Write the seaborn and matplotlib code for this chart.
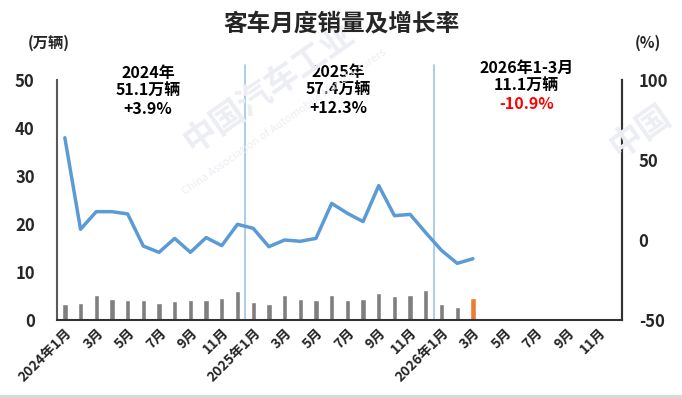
import numpy as np
import pandas as pd
import matplotlib
matplotlib.use("Agg")
import matplotlib.pyplot as plt
import seaborn as sns

sns.set_style("white")
plt.rcParams['font.family'] = ['Noto Sans CJK SC', 'DejaVu Sans']
plt.rcParams['axes.unicode_minus'] = False

# ---- data ----
month_keys = [f"{y}-{m:02d}" for y in (2024, 2025, 2026) for m in range(1, 13)]
tick_labels = ["2024年1月", "3月", "5月", "7月", "9月", "11月",
               "2025年1月", "3月", "5月", "7月", "9月", "11月",
               "2026年1月", "3月", "5月", "7月", "9月", "11月"]
sales = [3.3, 3.5, 5.2, 4.4, 4.2, 4.2, 3.5, 4.0, 4.2, 4.2, 4.65, 6.1,
         3.75, 3.3, 5.2, 4.4, 4.2, 5.2, 4.2, 4.4, 5.6, 5.0, 5.2, 6.25,
         3.4, 2.8, 4.6]
growth = [63.9, 6.7, 17.7, 17.7, 16.3, -3.8, -7.7, 1.0, -7.7, 1.5, -3.5, 9.8,
          7.3, -4.2, 0.0, -0.8, 1.0, 22.9, 16.7, 11.5, 34.0, 15.2, 16.0, 4.5,
          -6.5, -14.6, -11.7]
annot_years = ["2024年", "2025年", "2026年1-3月"]
annot_volume = ["51.1万辆", "57.4万辆", "11.1万辆"]
annot_growth = ["+3.9%", "+12.3%", "-10.9%"]

n = len(sales)
df = pd.DataFrame({
    "month": month_keys[:n],
    "sales": sales,
    "kind": ["past"] * (n - 1) + ["latest"],
})

fig = plt.figure(figsize=(6.82, 3.98), dpi=100)
ax = fig.add_axes([57/682, 78/398, 565/682, 240/398])

# faint watermark
wm = dict(color="#eceef3", zorder=0, ha="center", va="center", fontweight="bold")
fig.text(269/682, 1 - 88/398, "中国汽车工业", fontsize=24, rotation=35, **wm)
fig.text(284/682, 1 - 122/398, "China Association of Automobile Manufacturers",
         fontsize=8, rotation=35, color="#eceef3", ha="center", va="center", zorder=0)
fig.text(640/682, 1 - 132/398, "中国", fontsize=24, rotation=35, **wm)

sns.barplot(data=df, x="month", y="sales", hue="kind", order=month_keys,
            palette={"past": "#7f7f7f", "latest": "#ed7d31"},
            width=0.34, dodge=False, legend=False, saturation=1, ax=ax)

ax.set_ylim(0, 50)
ax.set_yticks([0, 10, 20, 30, 40, 50])
ax.set_xlim(-0.5, 35.5)
ax.set_xticks(list(range(0, 36, 2)))
ax.set_xticklabels(tick_labels, rotation=45, ha="right", rotation_mode="anchor",
                   fontsize=10, fontweight="bold")
ax.set_xlabel("")
ax.set_ylabel("")
for lbl in ax.get_yticklabels():
    lbl.set_fontweight("bold")
    lbl.set_fontsize(12)
ax.tick_params(axis="x", length=0, pad=4)
ax.tick_params(axis="y", length=0, pad=16)

for x in (11.5, 23.5):
    ax.axvline(x, ymin=0, ymax=1.0625, color="#9dc3e6", lw=1.2, clip_on=False, zorder=1)

ax.spines["top"].set_visible(False)
ax.spines["left"].set_color("#595959")
ax.spines["left"].set_linewidth(1.5)
ax.spines["bottom"].set_color("#333333")
ax.spines["bottom"].set_linewidth(1.5)
ax.spines["right"].set_color("#333333")
ax.spines["right"].set_linewidth(1.5)
ax.patch.set_alpha(0)

ax2 = ax.twinx()
sns.lineplot(x=np.arange(n), y=growth, ax=ax2, color="#5b9bd5", lw=2.5)
ax2.set_ylim(-50, 100)
ax2.set_yticks([-50, 0, 50, 100])
ax2.set_xlim(-0.5, 35.5)
ax2.set_ylabel("")
for lbl in ax2.get_yticklabels():
    lbl.set_fontweight("bold")
    lbl.set_fontsize(12)
ax2.tick_params(axis="y", length=0, pad=12)
for s in ("top", "left", "bottom"):
    ax2.spines[s].set_visible(False)
ax2.spines["right"].set_color("#333333")
ax2.spines["right"].set_linewidth(1.5)

# annotations
xs = [(148 - 57) / 565, (338.5 - 57) / 565, (526.7 - 57) / 565]
ys0 = [73, 72, 68]
for i in range(3):
    y0 = ys0[i]
    for j, (txt, col) in enumerate([(annot_years[i], "black"),
                                     (annot_volume[i], "black"),
                                     (annot_growth[i], "red" if i == 2 else "black")]):
        yy = (320 - (y0 + 18 * j)) / 240
        ax.text(xs[i], yy, txt, transform=ax.transAxes, ha="center", va="center",
                fontsize=11.5, fontweight="bold", color=col, clip_on=False)

fig.text(342/682, 1 - 23/398, "客车月度销量及增长率", ha="center", va="center",
         fontsize=17, fontweight="bold")
fig.text(49/682, 1 - 43/398, "(万辆)", ha="center", va="center", fontsize=11, fontweight="bold")
fig.text(648/682, 1 - 43/398, "(%)", ha="center", va="center", fontsize=11, fontweight="bold")

# bottom grey border strip
fig.patches.append(plt.Rectangle((0, 0), 1, 3/398, transform=fig.transFigure,
                                 color="#d9d9d9", zorder=0))

fig.savefig("out.png", dpi=100)
